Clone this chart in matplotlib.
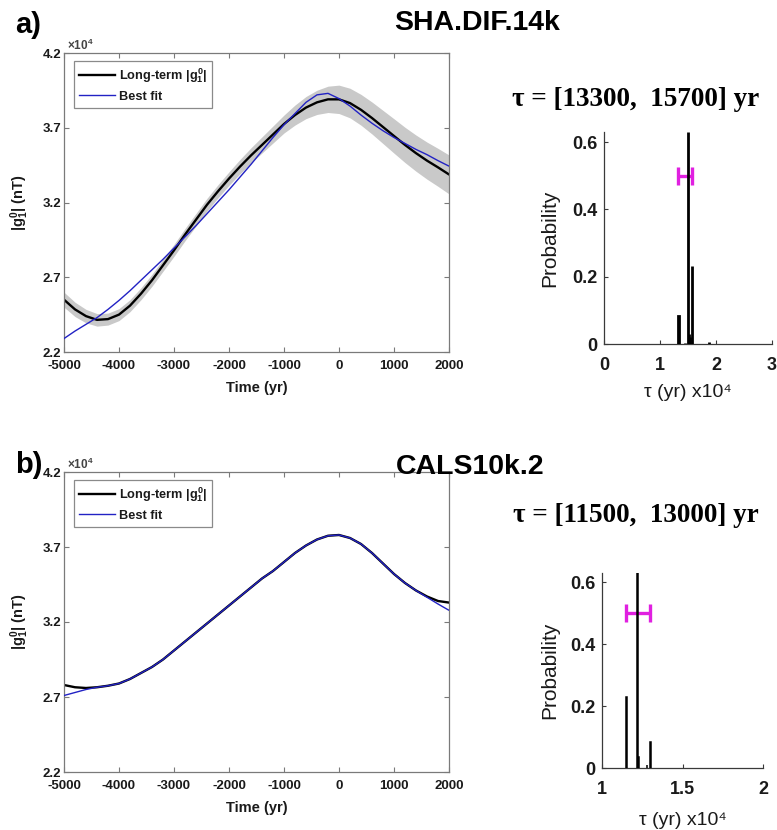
import matplotlib
matplotlib.use("Agg")
import matplotlib.pyplot as plt
from matplotlib.ticker import FuncFormatter, FixedLocator

plt.rcParams["font.family"] = ["Liberation Sans", "DejaVu Sans"]
plt.rcParams["mathtext.fontset"] = "custom"
plt.rcParams["mathtext.rm"] = "Liberation Sans:bold"
plt.rcParams["mathtext.bf"] = "Liberation Sans:bold"
plt.rcParams["mathtext.it"] = "Liberation Sans:bold"

# ---------------- data ----------------
years = [-5000, -4800, -4600, -4400, -4200, -4000, -3800, -3600, -3400, -3200,
         -3000, -2800, -2600, -2400, -2200, -2000, -1800, -1600, -1400, -1200,
         -1000, -800, -600, -400, -200, 0, 200, 400, 600, 800,
         1000, 1200, 1400, 1600, 1800, 1990]

# SHA.DIF.14k long-term |g10| (nT), its uncertainty half-width and best fit
sha_longterm = [25500, 24850, 24400, 24150, 24200, 24500, 25100, 25900, 26800, 27800,
                28800, 29850, 30850, 31850, 32750, 33600, 34400, 35150, 35850, 36550,
                37250, 37850, 38350, 38700, 38900, 38900, 38650, 38200, 37650, 37050,
                36450, 35850, 35300, 34800, 34350, 33900]
sha_unc = [500, 480, 450, 420, 400, 400, 400, 400, 400, 400,
           400, 410, 420, 430, 440, 450, 480, 510, 540, 570,
           600, 670, 740, 810, 880, 950, 990, 1030, 1070, 1110,
           1150, 1180, 1210, 1240, 1270, 1300]
sha_fit = [22900, 23400, 23850, 24300, 24850, 25450, 26100, 26800, 27500, 28200,
           28950, 29700, 30450, 31250, 32050, 32850, 33700, 34550, 35450, 36350,
           37200, 37950, 38700, 39200, 39300, 38950, 38450, 37850, 37300, 36800,
           36350, 35950, 35550, 35200, 34800, 34450]

# CALS10k.2 long-term |g10| (nT) and best fit
cals_longterm = [27800, 27650, 27600, 27650, 27750, 27900, 28200, 28600, 29000, 29500,
                 30100, 30700, 31300, 31900, 32500, 33100, 33700, 34300, 34900, 35400,
                 36000, 36600, 37100, 37500, 37750, 37800, 37600, 37200, 36600, 35900,
                 35200, 34600, 34100, 33700, 33400, 33300]
cals_fit = [27100, 27300, 27500, 27650, 27750, 27900, 28200, 28600, 29000, 29500,
            30100, 30700, 31300, 31900, 32500, 33100, 33700, 34300, 34900, 35400,
            36000, 36600, 37100, 37500, 37750, 37800, 37600, 37200, 36600, 35900,
            35200, 34600, 34100, 33650, 33200, 32800]

# tau probability distributions (years, probability)
sha_tau = [13300, 14500, 15000, 15200, 15400, 15700, 18800]
sha_prob = [0.082, 0.003, 0.63, 0.03, 0.02, 0.233, 0.005]
sha_range = [13300, 15700]

cals_tau = [11500, 12200, 12250, 12800, 13000]
cals_prob = [0.23, 0.63, 0.035, 0.01, 0.085]
cals_range = [11500, 13000]

x_ticks = [-5000, -4000, -3000, -2000, -1000, 0, 1000, 2000]
g_ticks = [22000, 27000, 32000, 37000, 42000]

W, H = 777, 830
fig = plt.figure(figsize=(W / 100, H / 100), dpi=100)


def px_axes(l, t, r, b):
    return fig.add_axes([l / W, 1 - b / H, (r - l) / W, (b - t) / H])


BLUE = "#2222c4"
GREY_AX = "#7a7a7a"
TXT = "#1a1a1a"


def line_panel(ax, longterm, fit, unc=None):
    if unc is not None:
        lo = [m - u for m, u in zip(longterm, unc)]
        hi = [m + u for m, u in zip(longterm, unc)]
        ax.fill_between(years, lo, hi, color="#c9c9c9", lw=0, zorder=1)
    ax.plot(years, longterm, color="black", lw=1.7, zorder=2,
            label=r"Long-term $|g_1^0|$")
    ax.plot(years, fit, color=BLUE, lw=1.0, zorder=3, label="Best fit")
    ax.set_xlim(-5000, 2000)
    ax.set_ylim(22000, 42000)
    ax.xaxis.set_major_locator(FixedLocator(x_ticks))
    ax.yaxis.set_major_locator(FixedLocator(g_ticks))
    ax.yaxis.set_major_formatter(FuncFormatter(lambda v, _: f"{v / 1e4:.1f}"))
    ax.xaxis.set_major_formatter(FuncFormatter(lambda v, _: f"{v:.0f}"))
    for s in ax.spines.values():
        s.set_color(GREY_AX)
        s.set_linewidth(0.9)
    ax.tick_params(direction="in", length=3.5, width=0.8, color=GREY_AX,
                   top=True, right=True, labelsize=9.5, labelcolor=TXT)
    ax.tick_params(axis="x", pad=6)
    ax.tick_params(axis="y", pad=2)
    for lab in ax.get_xticklabels() + ax.get_yticklabels():
        lab.set_fontweight("bold")
    ax.set_xlabel("Time (yr)", fontsize=10.5, fontweight="bold", color=TXT)
    ax.set_ylabel(r"$|g_1^0|$ (nT)", fontsize=10.5, fontweight="bold", color=TXT)
    ax.xaxis.set_label_coords(0.5, -0.12)
    ax.xaxis.label.set_va("center")
    ax.yaxis.set_label_coords(-0.114, 0.5)
    ax.yaxis.label.set_va("center")
    ax.text(0.008, 1.0, r"$\times$10$^4$", transform=ax.transAxes, fontsize=8.5,
            fontweight="bold", color="#444444", ha="left", va="bottom")
    leg = ax.legend(loc="upper left", bbox_to_anchor=(0.026, 0.973), borderaxespad=0,
                    fancybox=False, framealpha=1, edgecolor="#8a8a8a",
                    prop={"weight": "bold", "size": 9.2}, handlelength=2.8,
                    handletextpad=0.3, labelspacing=0.45, borderpad=0.4)
    leg.get_frame().set_linewidth(0.9)
    for t in leg.get_texts():
        t.set_color(TXT)


def hist_panel(ax, tau, prob, rng, xlim, xticks, lw):
    ax.bar(tau, prob, width=50, color="#1c2a44", edgecolor="black", linewidth=lw,
           zorder=3)
    mid = (rng[0] + rng[1]) / 2
    half = (rng[1] - rng[0]) / 2
    ax.errorbar([mid], [0.5], xerr=[[half], [half]], fmt="none", ecolor="#e020e0",
                elinewidth=2.4, capsize=6.5, capthick=2.4, zorder=2)
    ax.set_xlim(*xlim)
    ax.set_ylim(0, 0.63)
    ax.xaxis.set_major_locator(FixedLocator(xticks))
    ax.xaxis.set_major_formatter(FuncFormatter(lambda v, _: f"{v / 1e4:g}"))
    ax.yaxis.set_major_locator(FixedLocator([0, 0.2, 0.4, 0.6]))
    ax.yaxis.set_major_formatter(FuncFormatter(lambda v, _: f"{v:g}"))
    ax.spines["top"].set_visible(False)
    ax.spines["right"].set_visible(False)
    for s in ("left", "bottom"):
        ax.spines[s].set_color("#3a3a3a")
        ax.spines[s].set_linewidth(0.9)
    ax.tick_params(direction="in", length=3, width=0.8, color="#3a3a3a",
                   labelsize=13, labelcolor=TXT)
    ax.tick_params(axis="x", pad=9)
    ax.tick_params(axis="y", pad=5)
    for lab in ax.get_xticklabels() + ax.get_yticklabels():
        lab.set_fontweight("bold")
    ax.set_ylabel("Probability", fontsize=15, color=TXT)
    ax.set_xlabel("τ (yr) x10⁴", fontsize=14, color=TXT)
    ax.xaxis.label.set_va("center")
    ax.yaxis.label.set_va("center")


# panel a
ax1 = px_axes(64, 53, 449, 352)
line_panel(ax1, sha_longterm, sha_fit, sha_unc)
ax2 = px_axes(604, 132, 772, 344)
hist_panel(ax2, sha_tau, sha_prob, sha_range, (0, 30000), [0, 10000, 20000, 30000], 2.0)
ax2.xaxis.set_label_coords(0.5, -0.231)
ax2.yaxis.set_label_coords(-0.321, 0.5)

# panel b
ax3 = px_axes(64, 472, 449, 772)
line_panel(ax3, cals_longterm, cals_fit)
ax4 = px_axes(602, 573, 763, 768)
hist_panel(ax4, cals_tau, cals_prob, cals_range, (10000, 20000), [10000, 15000, 20000], 1.1)
ax4.xaxis.set_label_coords(0.503, -0.267)
ax4.yaxis.set_label_coords(-0.323, 0.5)

# headings
fig.text(15 / W, 1 - 25 / H, "a)", fontsize=21, fontweight="bold", va="center", ha="left")
fig.text(477 / W, 1 - 23 / H, "SHA.DIF.14k", fontsize=20.5, fontweight="bold",
         va="center", ha="center")
fig.text(15 / W, 1 - 465 / H, "b)", fontsize=21, fontweight="bold", va="center", ha="left")
fig.text(470 / W, 1 - 467 / H, "CALS10k.2", fontsize=20.5, fontweight="bold",
         va="center", ha="center")

fig.text(636 / W, 1 - 100 / H, "τ = [13300,  15700] yr", fontsize=19.5, fontweight="bold",
         family=["Liberation Serif", "DejaVu Serif"], va="center", ha="center")
fig.text(636 / W, 1 - 515 / H, "τ = [11500,  13000] yr", fontsize=19.5, fontweight="bold",
         family=["Liberation Serif", "DejaVu Serif"], va="center", ha="center")

fig.savefig("out.png", dpi=100, facecolor="white")
